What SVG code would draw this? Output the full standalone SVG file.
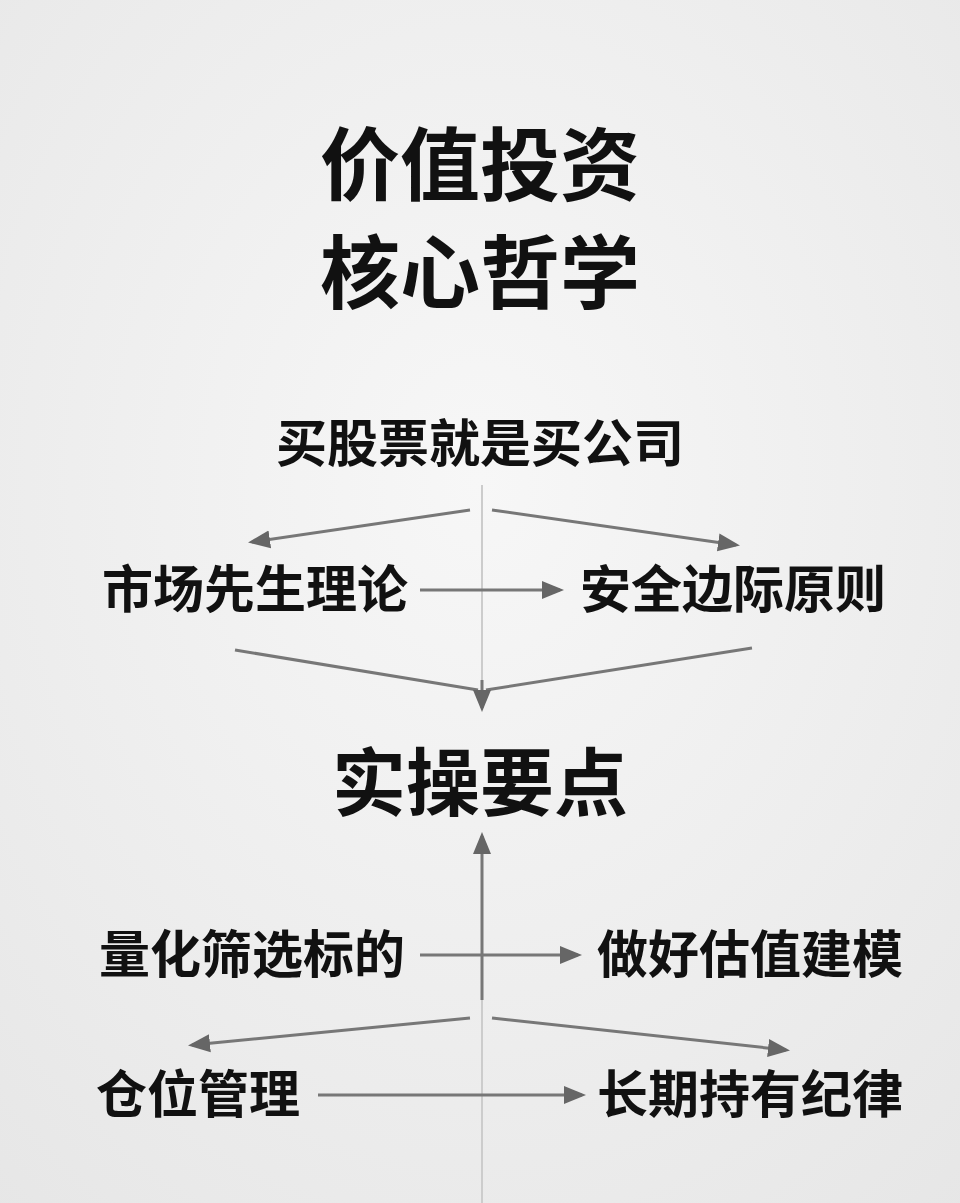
<svg xmlns="http://www.w3.org/2000/svg" width="960" height="1203" viewBox="0 0 960 1203">
<defs>
<marker id="ahb" markerWidth="22" markerHeight="22" refX="18" refY="11" orient="auto" markerUnits="userSpaceOnUse" viewBox="0 0 22 22"><path d="M0,2 L22,11 L0,20 z" fill="#666"/></marker>
<radialGradient id="bg" cx="0.5" cy="0.4" r="0.8"><stop offset="0" stop-color="#f7f7f7"/><stop offset="1" stop-color="#e6e6e6"/></radialGradient>
</defs>
<style>
text{font-family:"Noto Sans CJK SC","Noto Sans",sans-serif;font-weight:bold;fill:#111;text-anchor:middle}
.t{font-size:80px}.h{font-size:74px}.n{font-size:51px}
.c{stroke:#777;stroke-width:3;fill:none}
.f{stroke:#ccc;stroke-width:2;fill:none}
</style>
<rect width="960" height="1203" fill="url(#bg)"/>
<g id="title"><text class="t" x="480" y="194">价值投资</text><text class="t" x="480" y="302">核心哲学</text></g>
<g id="connectors">
<line class="f" x1="482" y1="485" x2="482" y2="690"/>
<line class="c" x1="470" y1="510" x2="252" y2="542" marker-end="url(#ahb)"/>
<line class="c" x1="492" y1="510" x2="736" y2="545" marker-end="url(#ahb)"/>
<line class="c" x1="420" y1="590" x2="560" y2="590" marker-end="url(#ahb)"/>
<line class="c" x1="235" y1="650" x2="478" y2="690"/>
<line class="c" x1="752" y1="648" x2="486" y2="690"/>
<line class="c" x1="482" y1="680" x2="482" y2="708" marker-end="url(#ahb)"/>
<line class="f" x1="482" y1="1203" x2="482" y2="860"/>
<line class="c" x1="482" y1="1000" x2="482" y2="836" marker-end="url(#ahb)"/>
<line class="c" x1="420" y1="955" x2="578" y2="955" marker-end="url(#ahb)"/>
<line class="c" x1="470" y1="1018" x2="192" y2="1045" marker-end="url(#ahb)"/>
<line class="c" x1="492" y1="1018" x2="786" y2="1050" marker-end="url(#ahb)"/>
<line class="c" x1="318" y1="1095" x2="582" y2="1095" marker-end="url(#ahb)"/>
</g>
<g id="n1"><text class="n" x="480" y="462">买股票就是买公司</text></g>
<g id="n2"><text class="n" x="255" y="608">市场先生理论</text></g>
<g id="n3"><text class="n" x="733" y="608">安全边际原则</text></g>
<g id="n4"><text class="h" x="480" y="810">实操要点</text></g>
<g id="n5"><text class="n" x="252" y="973">量化筛选标的</text></g>
<g id="n6"><text class="n" x="750" y="973">做好估值建模</text></g>
<g id="n7"><text class="n" x="198" y="1113">仓位管理</text></g>
<g id="n8"><text class="n" x="750" y="1113">长期持有纪律</text></g>
</svg>
